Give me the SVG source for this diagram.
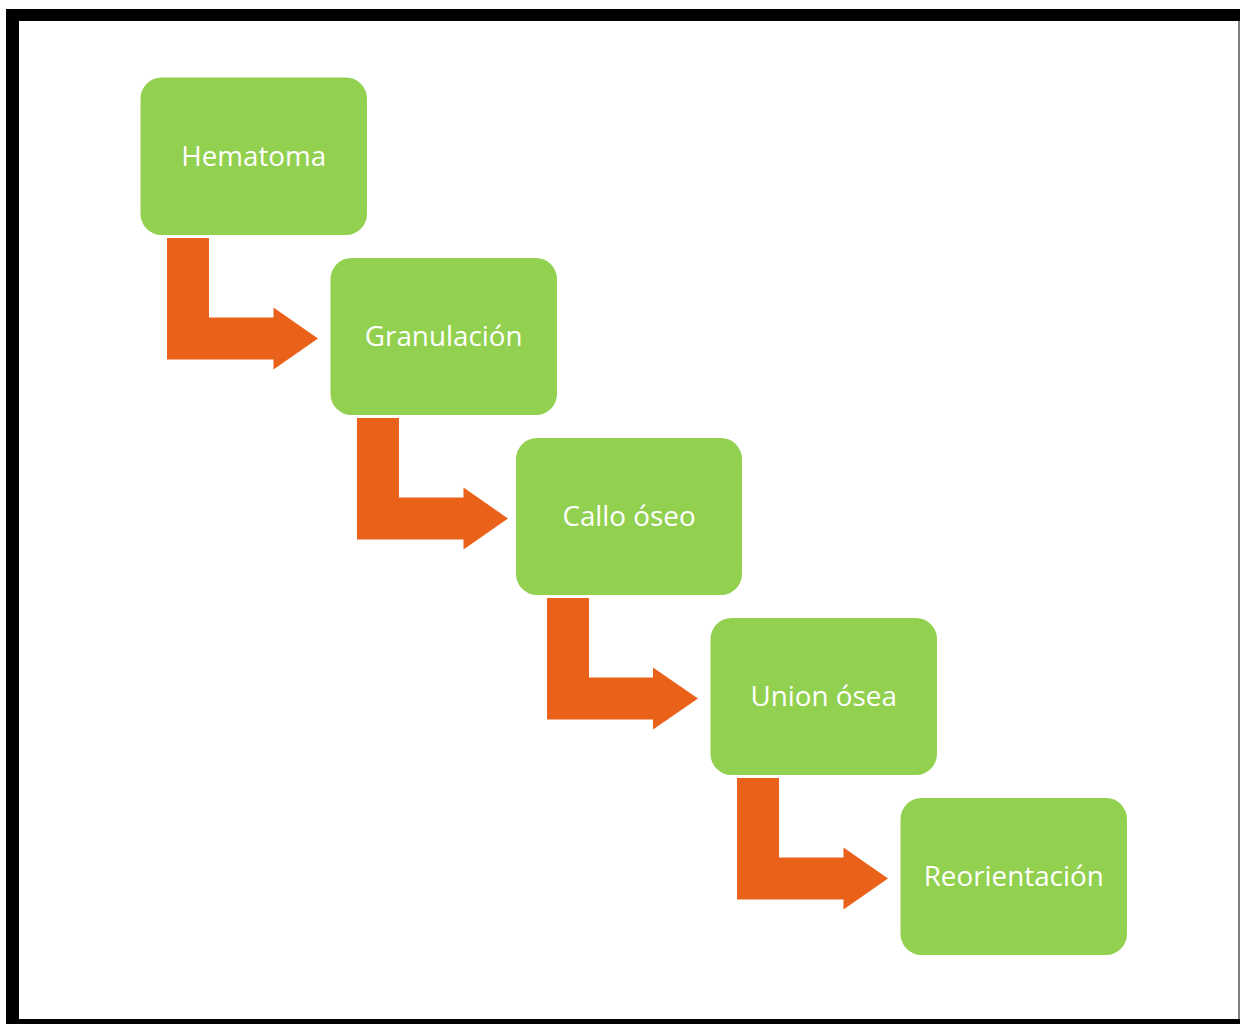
<svg xmlns="http://www.w3.org/2000/svg" width="1240" height="1024" viewBox="0 0 1240 1024">
<style>
.node rect{fill:#92D050;}
.node text{fill:#FFFFFF;font-family:"Open Sans","Noto Sans","Liberation Sans",sans-serif;font-size:27.8px;text-anchor:middle;}
.arrow{fill:#EA621A;}
</style>
<rect x="0" y="0" width="1240" height="1024" fill="#FFFFFF"/>
<g id="frame">
<rect x="6" y="9" width="1240" height="1020" fill="#000000"/>
<rect x="19" y="21" width="1219" height="998" fill="#FFFFFF"/>
<rect x="1238" y="21" width="2" height="998" fill="#7F7F7F"/>
</g>
<g id="connectors">
<polygon class="arrow" points="167,238 209,238 209,317.5 273.5,317.5 273.5,307.5 318,338.5 273.5,369.5 273.5,359.5 167,359.5"/>
<polygon class="arrow" points="357,418 399,418 399,497.5 463.5,497.5 463.5,487.5 508,518.5 463.5,549.5 463.5,539.5 357,539.5"/>
<polygon class="arrow" points="547,598 589,598 589,677.5 653,677.5 653,667.5 698,698.5 653,729.5 653,719.5 547,719.5"/>
<polygon class="arrow" points="737,778 779,778 779,857.5 843.5,857.5 843.5,847.5 888,878.5 843.5,909.5 843.5,899.5 737,899.5"/>
</g>
<g id="node-hematoma" class="node">
<rect x="140.5" y="77.5" width="226.5" height="157.5" rx="21"/>
<text x="253.7" y="165.8">Hematoma</text>
</g>
<g id="node-granulacion" class="node">
<rect x="330.5" y="258" width="226.5" height="157" rx="21"/>
<text x="443.7" y="346">Granulación</text>
</g>
<g id="node-callo" class="node">
<rect x="516" y="438" width="226" height="157" rx="21"/>
<text x="629" y="526">Callo óseo</text>
</g>
<g id="node-union" class="node">
<rect x="710.5" y="618" width="226.5" height="157" rx="21"/>
<text x="823.7" y="706">Union ósea</text>
</g>
<g id="node-reorientacion" class="node">
<rect x="900.5" y="798" width="226.5" height="157" rx="21"/>
<text x="1013.7" y="886">Reorientación</text>
</g>
</svg>
